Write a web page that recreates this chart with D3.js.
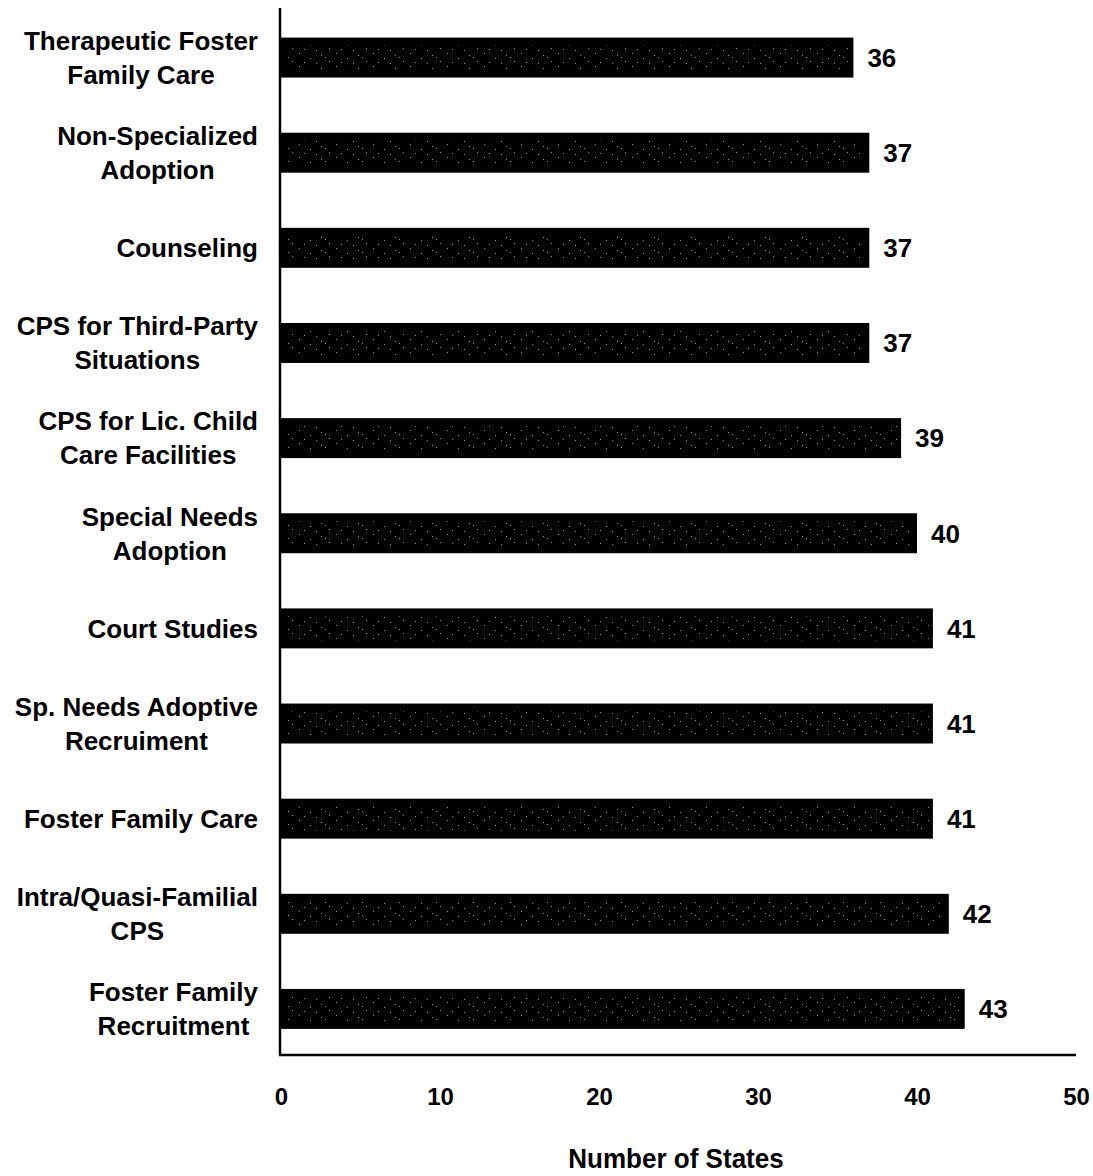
<!DOCTYPE html>
<html>
<head>
<meta charset="utf-8">
<script src="https://cdn.jsdelivr.net/npm/d3@7/dist/d3.min.js"></script>
<style>
  html, body { margin: 0; padding: 0; background: #fff; }
  svg { display: block; font-family: "Liberation Sans", Arial, Helvetica, sans-serif; font-weight: bold; }
</style>
</head>
<body>
<svg id="chart" width="1093" height="1176"></svg>
<script>
// Services offered, top to bottom, with the number of states offering each
const categories = [
  ["Therapeutic Foster", "Family Care"],
  ["Non-Specialized", "Adoption"],
  ["Counseling"],
  ["CPS for Third-Party", "Situations"],
  ["CPS for Lic. Child", "Care Facilities"],
  ["Special Needs", "Adoption"],
  ["Court Studies"],
  ["Sp. Needs Adoptive", "Recruiment"],
  ["Foster Family Care"],
  ["Intra/Quasi-Familial", "CPS"],
  ["Foster Family", "Recruitment"]
];
const values = [36, 37, 37, 37, 39, 40, 41, 41, 41, 42, 43];
const xTicks = [0, 10, 20, 30, 40, 50];
const xTitle = "Number of States";

const svg = d3.select("#chart");
const plot = { left: 281, right: 1076, top: 8, bottom: 1055 };

const keys = categories.map(d => d.join(" "));
const x = d3.scaleLinear().domain([0, 50]).range([plot.left, plot.right]);
const y = d3.scaleBand().domain(keys).range([plot.top + 2, plot.bottom + 1.5]).paddingInner(0.58).paddingOuter(0.29);

// sparse speckled print texture for the bars
const defs = svg.append("defs");
const pat = defs.append("pattern")
  .attr("id", "speckle").attr("patternUnits", "userSpaceOnUse")
  .attr("width", 37).attr("height", 13);
pat.append("rect").attr("width", 37).attr("height", 13).attr("fill", "#000");
[[3,1],[14,6],[25,3],[33,9],[8,10],[20,11],[29,5]].forEach(([px, py]) =>
  pat.append("rect").attr("x", px).attr("y", py).attr("width", 1).attr("height", 1).attr("fill", "#9a9a9a"));

const rows = svg.append("g").selectAll("g").data(categories).join("g");

rows.append("rect")
  .attr("x", x(0))
  .attr("y", (d, i) => y(keys[i]))
  .attr("width", (d, i) => x(values[i]) - x(0))
  .attr("height", y.bandwidth())
  .attr("fill", "#000");

rows.append("rect")
  .attr("x", x(0) + 4)
  .attr("y", (d, i) => y(keys[i]) + 8)
  .attr("width", (d, i) => x(values[i]) - x(0) - 8)
  .attr("height", y.bandwidth() - 16)
  .attr("fill", "url(#speckle)");

// value labels
rows.append("text")
  .attr("x", (d, i) => x(values[i]) + 14)
  .attr("y", (d, i) => y(keys[i]) + y.bandwidth() / 2)
  .attr("dy", "0.36em")
  .attr("font-size", 26)
  .text((d, i) => values[i]);

// category labels: block right-aligned against the axis, lines centred within it
const lineH = 34;
rows.each(function (d, i) {
  const g = d3.select(this);
  const cy = y(keys[i]) + y.bandwidth() / 2;
  const t = g.append("text").attr("font-size", 26).attr("text-anchor", "middle");
  const spans = d.map((line, j) => t.append("tspan")
    .attr("y", cy + (j - (d.length - 1) / 2) * lineH)
    .attr("dy", "0.36em")
    .text(line));
  const w = d3.max(spans, s => s.node().getComputedTextLength());
  spans.forEach(s => s.attr("x", 258 - w / 2));
});

// axes
svg.append("line")
  .attr("x1", plot.left - 1).attr("x2", plot.left - 1)
  .attr("y1", plot.top).attr("y2", plot.bottom)
  .attr("stroke", "#000").attr("stroke-width", 2.5);
svg.append("line")
  .attr("x1", plot.left - 2).attr("x2", plot.right)
  .attr("y1", plot.bottom).attr("y2", plot.bottom)
  .attr("stroke", "#000").attr("stroke-width", 2.5);

const xAxis = d3.axisBottom(x).tickValues(xTicks).tickSize(0).tickPadding(0);
const ax = svg.append("g").attr("transform", `translate(0,${plot.bottom})`).call(xAxis);
ax.select(".domain").remove();
ax.selectAll("text")
  .attr("font-size", 24)
  .attr("font-family", "Liberation Sans, Arial, sans-serif")
  .attr("font-weight", "bold")
  .attr("fill", "#000")
  .attr("dy", null)
  .attr("y", 50);

// axis title, slightly condensed
svg.append("text")
  .attr("transform", "translate(676,1168) scale(0.93,1)")
  .attr("text-anchor", "middle")
  .attr("font-size", 28)
  .text(xTitle);
</script>
</body>
</html>
